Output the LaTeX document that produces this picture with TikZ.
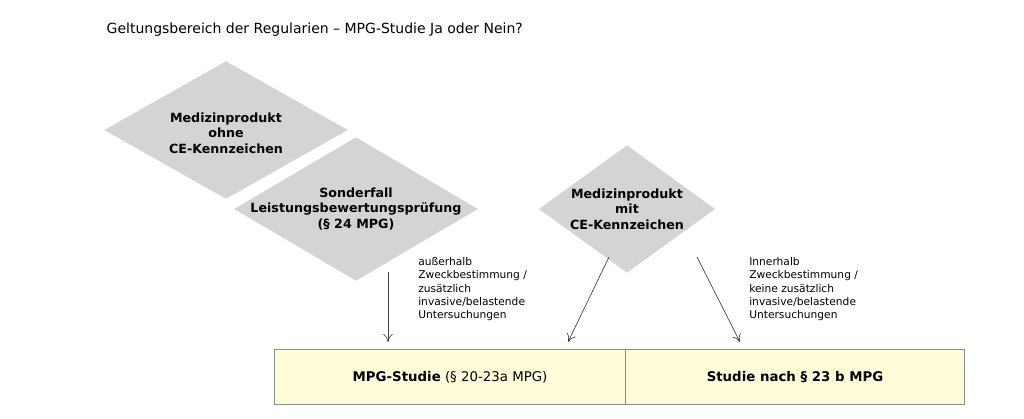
\documentclass[tikz,border=0pt]{standalone}
\usepackage{fontspec}
\setmainfont{DejaVu Sans}
\usetikzlibrary{positioning, arrows.meta}

\tikzset{
  raute/.style = {fill=black!17, draw=white, line width=1.5pt},
  rautetext/.style = {font=\bfseries\fontsize{9.5}{11.5}\selectfont, align=center},
  ziel/.style = {draw=black!45, fill=yellow!15, minimum width=264, minimum height=41, font=\fontsize{10}{12}\selectfont},
  hinweis/.style = {font=\fontsize{8}{10}\selectfont, align=left, anchor=north west, inner sep=0pt},
  pfeil/.style = {-{To[length=6pt, width=7pt]}, draw=black!75, line width=0.5pt}
}

\begin{document}
\begin{tikzpicture}[x=0.75pt, y=-0.75pt]
  \useasboundingbox (0,0) rectangle (1024,418);
  \node[anchor=west, font=\fontsize{10.5}{12}\selectfont] (titel) at (102,30) {Geltungsbereich der Regularien – MPG-Studie Ja oder Nein?};

  % Rauten
  \fill[raute] (102,130) -- (226,60) -- (350,130) -- (226,200) -- cycle;
  \fill[raute] (232,209) -- (356,136) -- (480,209) -- (356,282) -- cycle;
  \fill[raute] (537,209) -- (627,144) -- (717,209) -- (627,274) -- cycle;
  \node[rautetext] (ohne) at (226,133) {Medizinprodukt\\ohne\\CE-Kennzeichen};
  \node[rautetext] (sonder) at (356,209) {Sonderfall\\Leistungsbewertungsprüfung\\(§ 24 MPG)};
  \node[rautetext] (mit) at (627,209) {Medizinprodukt\\mit\\CE-Kennzeichen};

  % Ziele
  \node[ziel] (mpg) at (450,377) {\textbf{MPG-Studie} (§ 20-23a MPG)};
  \node[ziel, minimum width=254] (studie) at (795,377) {\textbf{Studie nach § 23 b MPG}};

  \coordinate (s1) at (388,272);
  \coordinate (s2) at (609,257);
  \coordinate (s3) at (697,257);
  \draw[pfeil] (s1) -- (388,342);
  \draw[pfeil] (s2) -- (568,342);
  \draw[pfeil] (s3) -- (740,342);

  \node[hinweis] (ausser) at (418,257) {außerhalb\\Zweckbestimmung /\\zusätzlich\\invasive/belastende\\Untersuchungen};
  \node[hinweis] (inner) at (749,257) {Innerhalb\\Zweckbestimmung /\\keine zusätzlich\\invasive/belastende\\Untersuchungen};
\end{tikzpicture}
\end{document}
